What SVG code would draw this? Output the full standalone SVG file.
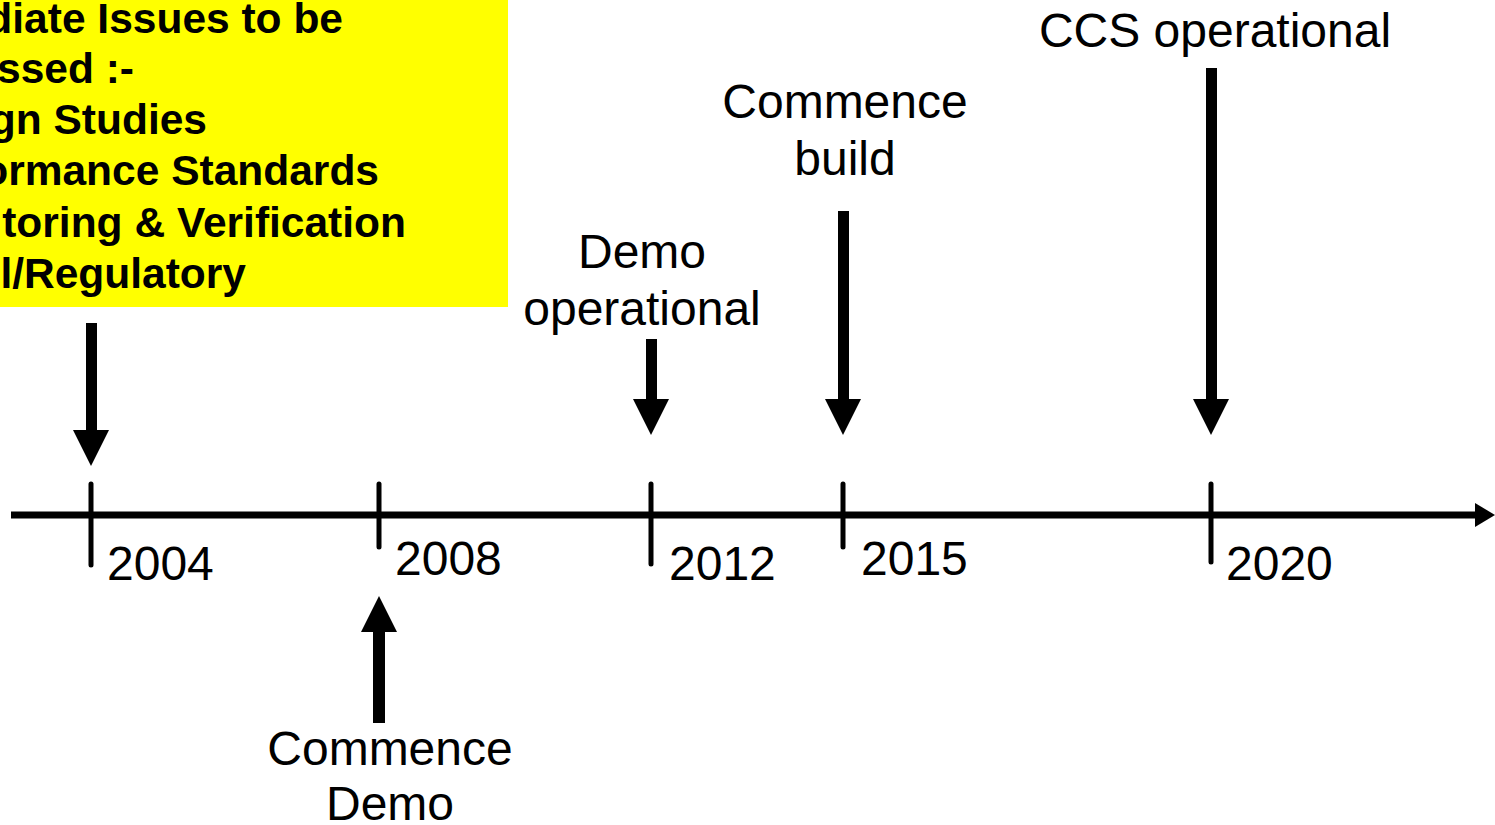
<svg xmlns="http://www.w3.org/2000/svg" width="1495" height="825" viewBox="0 0 1495 825">
<style>
.lbl{font-family:"Liberation Sans",Arial,sans-serif;font-size:48px;fill:#000}
.box{font-family:"Liberation Sans",Arial,sans-serif;font-size:42.5px;font-weight:bold;fill:#000}
.tick{stroke:#000;stroke-width:5;stroke-linecap:round}
.arr{fill:#000}
</style>
<rect width="1495" height="825" fill="#fff"/>
<g id="issues">
<rect x="0" y="0" width="508" height="307" fill="#ffff00"/>
<text class="box" text-anchor="end" x="343" y="33">diate Issues to be</text>
<text class="box" text-anchor="end" x="134" y="83">ssed :-</text>
<text class="box" text-anchor="end" x="207" y="134">gn Studies</text>
<text class="box" text-anchor="end" x="379" y="185">ormance Standards</text>
<text class="box" text-anchor="end" x="406" y="237">toring &amp; Verification</text>
<text class="box" text-anchor="end" x="246" y="288">l/Regulatory</text>
</g>
<g id="connectors">
<line x1="11" y1="515" x2="1478" y2="515" stroke="#000" stroke-width="7"/>
<polygon class="arr" points="1475,503 1495,515 1475,527"/>
<line class="tick" x1="91" y1="484" x2="91" y2="565"/>
<line class="tick" x1="379" y1="484" x2="379" y2="547"/>
<line class="tick" x1="651" y1="484" x2="651" y2="564"/>
<line class="tick" x1="843" y1="484" x2="843" y2="547"/>
<line class="tick" x1="1211" y1="484" x2="1211" y2="562"/>
<polygon class="arr" points="86,323 97,323 97,430 109,430 91,466 73,430 86,430"/>
<polygon class="arr" points="373,723 385,723 385,632 397,632 379,596 361,632 373,632"/>
<polygon class="arr" points="646,339 657,339 657,399 669,399 651,435 633,399 646,399"/>
<polygon class="arr" points="838,211 849,211 849,399 861,399 843,435 825,399 838,399"/>
<polygon class="arr" points="1206,68 1217,68 1217,399 1229,399 1211,435 1193,399 1206,399"/>
</g>
<g id="y2004"><text class="lbl" x="107" y="580">2004</text></g>
<g id="y2008"><text class="lbl" x="395" y="575">2008</text></g>
<g id="y2012"><text class="lbl" x="669" y="580">2012</text></g>
<g id="y2015"><text class="lbl" x="861" y="575">2015</text></g>
<g id="y2020"><text class="lbl" x="1226" y="580">2020</text></g>
<g id="ccs"><text class="lbl" text-anchor="middle" x="1215" y="47">CCS operational</text></g>
<g id="build"><text class="lbl" text-anchor="middle" x="845" y="118">Commence</text><text class="lbl" text-anchor="middle" x="845" y="175">build</text></g>
<g id="demoop"><text class="lbl" text-anchor="middle" x="642" y="268">Demo</text><text class="lbl" text-anchor="middle" x="642" y="325">operational</text></g>
<g id="demostart"><text class="lbl" text-anchor="middle" x="390" y="765">Commence</text><text class="lbl" text-anchor="middle" x="390" y="820">Demo</text></g>
</svg>
